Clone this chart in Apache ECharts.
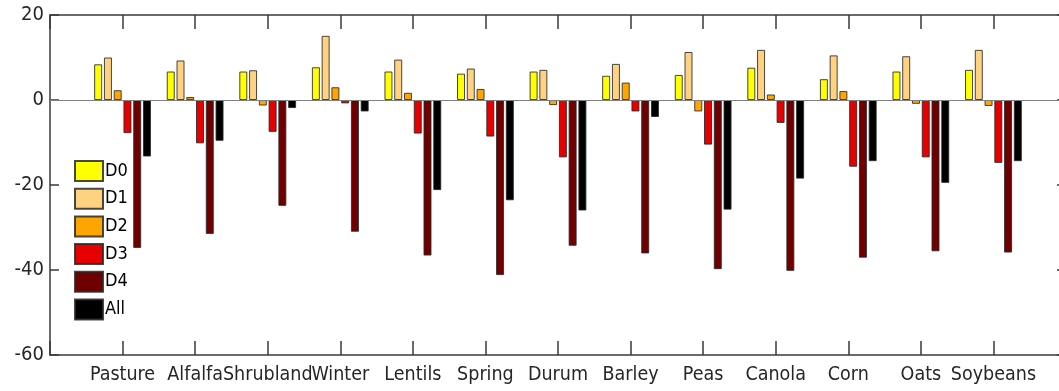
<!DOCTYPE html>
<html>
<head>
<meta charset="utf-8">
<script src="https://cdn.jsdelivr.net/npm/echarts@6/dist/echarts.min.js"></script>
<style>
html,body{margin:0;padding:0;background:#fff;}
#chart{width:1059px;height:391px;}
</style>
</head>
<body>
<div id="chart"></div>
<script>
var categories = ['Pasture','Alfalfa','Shrubland','Winter','Lentils','Spring','Durum','Barley','Peas','Canola','Corn','Oats','Soybeans'];
var seriesNames = ['D0','D1','D2','D3','D4','All'];
var D0  = [8.4, 6.7, 6.7, 7.7, 6.7, 6.2, 6.7, 5.7, 5.9, 7.6, 4.9, 6.7, 7.1];
var D1  = [10.0, 9.3, 7.0, 15.1, 9.5, 7.4, 7.1, 8.5, 11.3, 11.8, 10.5, 10.3, 11.8];
var D2  = [2.3, 0.7, -1.3, 3.0, 1.7, 2.6, -1.2, 4.1, -2.7, 1.3, 2.1, -0.9, -1.4];
var D3  = [-7.8, -10.2, -7.5, -0.8, -7.9, -8.6, -13.5, -2.7, -10.5, -5.4, -15.7, -13.5, -14.8];
var D4  = [-34.8, -31.5, -24.9, -31.0, -36.6, -41.2, -34.3, -36.1, -39.8, -40.2, -37.1, -35.6, -35.9];
var All = [-13.3, -9.6, -1.9, -2.7, -21.2, -23.6, -26.0, -4.0, -25.8, -18.5, -14.4, -19.5, -14.4];
var yTicks = [-60, -40, -20, 0, 20];
var colors = ['#ffff00', '#ffd282', '#ffa500', '#e60000', '#700000', '#000000'];

var seriesData = [D0, D1, D2, D3, D4, All];
var FONT = "'DejaVu Sans Condensed', 'Liberation Sans Narrow', 'DejaVu Sans', sans-serif";
var chart = echarts.init(document.getElementById('chart'), null, {renderer: 'canvas'});

var series = seriesData.map(function (arr, si) {
  var s = {
    name: seriesNames[si],
    type: 'bar',
    xAxisIndex: 0,
    yAxisIndex: 0,
    barWidth: 8,
    barGap: '22%',
    itemStyle: {color: colors[si], borderColor: 'rgba(40,40,40,0.85)', borderWidth: 1},
    data: arr.map(function (v, i) { return [i + 1, v]; })
  };
  if (si === 0) {
    s.markLine = {
      silent: true, symbol: 'none', label: {show: false},
      lineStyle: {color: '#808080', width: 1, type: 'solid'},
      data: [{yAxis: 0}]
    };
  }
  return s;
});

var axisLineStyle = {color: '#3a3a3a', width: 1.5};
chart.setOption({
  animation: false,
  backgroundColor: '#fff',
  grid: {left: 50, top: 15, width: 1016, height: 340, containLabel: false, outerBoundsMode: 'none'},
  legend: {
    orient: 'vertical', left: 74, top: 160, padding: 0,
    itemWidth: 28, itemHeight: 20, itemGap: 5.7,
    icon: 'rect',
    textStyle: {fontFamily: FONT, fontSize: 18, color: '#000', padding: [0, 0, 0, -3]},
    data: seriesNames
  },
  xAxis: [{
    type: 'value', min: 0, max: 14, interval: 1, position: 'bottom',
    axisLine: {show: true, onZero: false, lineStyle: axisLineStyle},
    axisTick: {show: true, inside: true, length: 14, lineStyle: axisLineStyle},
    splitLine: {show: false},
    axisLabel: {
      fontFamily: FONT, fontSize: 19.5, color: '#262626', margin: 10,
      showMinLabel: true, showMaxLabel: true,
      formatter: function (v) { var k = Math.round(v); return (k >= 1 && k <= categories.length) ? categories[k - 1] : ''; }
    }
  }, {
    type: 'value', min: 0, max: 14, interval: 1, position: 'top',
    axisLine: {show: true, onZero: false, lineStyle: axisLineStyle},
    axisTick: {show: true, inside: true, length: 14, lineStyle: axisLineStyle},
    splitLine: {show: false},
    axisLabel: {show: false}
  }],
  yAxis: [{
    type: 'value', min: yTicks[0], max: yTicks[yTicks.length - 1], interval: 20, position: 'left',
    axisLine: {show: true, onZero: false, lineStyle: axisLineStyle},
    axisTick: {show: true, inside: true, length: 9, lineStyle: axisLineStyle},
    splitLine: {show: false},
    axisLabel: {fontFamily: FONT, fontSize: 20, color: '#262626', margin: 6}
  }, {
    type: 'value', min: yTicks[0], max: yTicks[yTicks.length - 1], interval: 20, position: 'right',
    axisLine: {show: true, onZero: false, lineStyle: axisLineStyle},
    axisTick: {show: true, inside: true, length: 9, lineStyle: axisLineStyle},
    splitLine: {show: false},
    axisLabel: {show: false}
  }],
  series: series
});
</script>
</body>
</html>
